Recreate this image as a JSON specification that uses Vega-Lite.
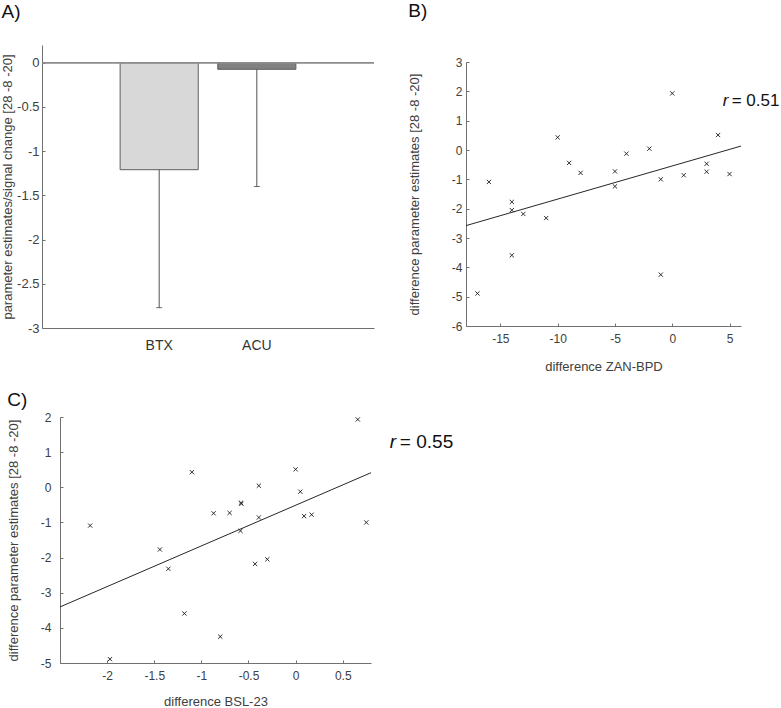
{
  "$schema": "https://vega.github.io/schema/vega-lite/v6.json",
  "background": "white",
  "padding": {"left": 1, "top": 2, "right": 0, "bottom": 0},
  "config": {
    "view": {"stroke": null},
    "font": "Liberation Sans",
    "axis": {
      "grid": false,
      "domainColor": "#707070",
      "tickColor": "#707070",
      "tickSize": -3,
      "labelColor": "#404040",
      "titleColor": "#404040",
      "labelFont": "Liberation Sans",
      "titleFont": "Liberation Sans",
      "labelFontSize": 12,
      "titleFontSize": 13,
      "titleFontWeight": "normal"
    },
    "title": {"fontSize": 19, "fontWeight": "normal", "anchor": "start", "frame": "bounds", "color": "#111111", "font": "Liberation Sans"}
  },
  "datasets": {
    "bars": [
      {"group": "BTX", "mean": -1.21, "lower": -2.77},
      {"group": "ACU", "mean": -0.075, "lower": -1.40}
    ],
    "subjects": [
      {"zan": -17, "bsl": -1.97, "pe": -4.89},
      {"zan": -16, "bsl": -2.18, "pe": -1.09},
      {"zan": -14, "bsl": -1.44, "pe": -1.77},
      {"zan": -14, "bsl": -0.30, "pe": -2.05},
      {"zan": -14, "bsl": -1.18, "pe": -3.59},
      {"zan": -13, "bsl": -0.43, "pe": -2.18},
      {"zan": -11, "bsl": -1.35, "pe": -2.32},
      {"zan": -10, "bsl": -1.10, "pe": 0.43},
      {"zan": -9, "bsl": -0.58, "pe": -0.44},
      {"zan": -8, "bsl": 0.17, "pe": -0.78},
      {"zan": -5, "bsl": -0.70, "pe": -0.73},
      {"zan": -5, "bsl": -0.585, "pe": -1.24},
      {"zan": -4, "bsl": 0.05, "pe": -0.125},
      {"zan": -2, "bsl": -0.39, "pe": 0.045},
      {"zan": -1, "bsl": 0.75, "pe": -1.00},
      {"zan": -1, "bsl": -0.80, "pe": -4.25},
      {"zan": 0, "bsl": 0.66, "pe": 1.93},
      {"zan": 1, "bsl": -0.39, "pe": -0.86},
      {"zan": 3, "bsl": -0.575, "pe": -0.47},
      {"zan": 3, "bsl": -0.87, "pe": -0.74},
      {"zan": 4, "bsl": 0.00, "pe": 0.51},
      {"zan": 5, "bsl": 0.09, "pe": -0.82}
    ]
  },
  "concat": [
    {
      "concat": [
        {
          "title": {"text": "A)", "offset": 23},
          "width": 332,
          "height": 283,
          "data": {"name": "bars"},
          "encoding": {
            "x": {"field": "group", "type": "nominal", "sort": ["BTX", "ACU"],
              "scale": {"paddingInner": 0.2, "paddingOuter": 0.8},
              "axis": {"title": null, "labelAngle": 0, "ticks": false, "labelPadding": 10, "labelFontSize": 14, "labelColor": "#333333"}}
          },
          "layer": [
            {
              "mark": {"type": "bar", "stroke": "#5f5f5f", "strokeWidth": 1},
              "encoding": {
                "y": {"field": "mean", "type": "quantitative",
                  "scale": {"domain": [-3, 0.2], "nice": false},
                  "axis": {"title": "parameter estimates/signal change [28 -8 -20]", "values": [-3, -2.5, -2, -1.5, -1, -0.5, 0], "labelExpr": "toString(datum.value)", "labelPadding": 6, "titlePadding": 2, "labelFontSize": 13}},
                "fill": {"field": "group", "type": "nominal", "scale": {"domain": ["BTX", "ACU"], "range": ["#d8d8d8", "#808080"]}, "legend": null}
              }
            },
            {
              "mark": {"type": "rule", "color": "#505050", "strokeWidth": 1},
              "encoding": {"y": {"field": "mean", "type": "quantitative"}, "y2": {"field": "lower"}}
            },
            {
              "mark": {"type": "tick", "color": "#303030", "size": 6, "thickness": 1},
              "encoding": {"y": {"field": "lower", "type": "quantitative"}}
            },
            {
              "mark": {"type": "rule", "color": "#8c8c8c", "strokeWidth": 1.5},
              "encoding": {"y": {"datum": 0}, "x": null}
            }
          ]
        },
        {
          "title": {"text": "B)", "offset": 24},
          "width": 275,
          "height": 281,
          "data": {"name": "subjects"},
          "encoding": {
            "x": {"field": "zan", "type": "quantitative",
              "scale": {"domain": [-18, 6], "nice": false, "zero": false},
              "axis": {"title": "difference ZAN-BPD", "values": [-15, -10, -5, 0, 5], "labelExpr": "toString(datum.value)", "labelPadding": 10, "titlePadding": 16}},
            "y": {"field": "pe", "type": "quantitative",
              "scale": {"domain": [-6, 3], "nice": false, "zero": false, "range": [281, 17]},
              "axis": {"title": "difference parameter estimates [28 -8 -20]", "values": [-6, -5, -4, -3, -2, -1, 0, 1, 2, 3], "labelExpr": "toString(datum.value)", "labelPadding": 7, "titlePadding": 30}}
          },
          "layer": [
            {
              "mark": {"type": "point", "shape": "M-1,-1L1,1M-1,1L1,-1", "size": 18, "filled": false, "stroke": "#1a1a1a", "strokeWidth": 0.9, "opacity": 1}
            },
            {
              "transform": [{"regression": "pe", "on": "zan", "extent": [-18, 6]}],
              "mark": {"type": "line", "color": "#262626", "strokeWidth": 1}
            },
            {
              "transform": [{"filter": "datum.zan === 0"}],
              "mark": {"type": "text", "text": "r", "fontStyle": "italic", "fontSize": 17, "align": "left", "baseline": "middle", "color": "#111111"},
              "encoding": {"x": {"datum": 4.4}, "y": {"datum": 1.67}}
            },
            {
              "transform": [{"filter": "datum.zan === 0"}],
              "mark": {"type": "text", "text": "= 0.51", "fontSize": 17, "align": "left", "baseline": "middle", "dx": 9, "color": "#111111"},
              "encoding": {"x": {"datum": 4.4}, "y": {"datum": 1.67}}
            }
          ]
        }
      ],
      "columns": 2,
      "align": "none",
      "spacing": 33
    },
    {
      "title": {"text": "C)", "offset": 1},
      "width": 329,
      "height": 246,
      "data": {"name": "subjects"},
      "encoding": {
        "x": {"field": "bsl", "type": "quantitative",
          "scale": {"domain": [-2.5, 0.8], "nice": false, "zero": false, "range": [18, 329]},
          "axis": {"title": "difference BSL-23", "values": [-2, -1.5, -1, -0.5, 0, 0.5], "labelExpr": "toString(datum.value)", "labelPadding": 10, "titlePadding": 14}},
        "y": {"field": "pe", "type": "quantitative",
          "scale": {"domain": [-5, 2], "nice": false, "zero": false},
          "axis": {"title": "difference parameter estimates [28 -8 -20]", "values": [-5, -4, -3, -2, -1, 0, 1, 2], "labelExpr": "toString(datum.value)", "labelPadding": 12, "titlePadding": 20, "offset": -18}}
      },
      "layer": [
        {
          "mark": {"type": "point", "shape": "M-1,-1L1,1M-1,1L1,-1", "size": 18, "filled": false, "stroke": "#1a1a1a", "strokeWidth": 0.9, "opacity": 1}
        },
        {
          "transform": [{"regression": "pe", "on": "bsl", "extent": [-2.5, 0.8]}],
          "mark": {"type": "line", "color": "#262626", "strokeWidth": 1}
        },
        {
          "transform": [{"filter": "datum.zan === 0"}],
          "mark": {"type": "text", "text": "r", "fontStyle": "italic", "fontSize": 19, "align": "left", "baseline": "middle", "color": "#111111"},
          "encoding": {"x": {"datum": 1.0}, "y": {"datum": 1.29}}
        },
        {
          "transform": [{"filter": "datum.zan === 0"}],
          "mark": {"type": "text", "text": "= 0.55", "fontSize": 19, "align": "left", "baseline": "middle", "dx": 10, "color": "#111111"},
          "encoding": {"x": {"datum": 1.0}, "y": {"datum": 1.29}}
        }
      ]
    }
  ],
  "columns": 1,
  "align": "none",
  "spacing": 18
}
